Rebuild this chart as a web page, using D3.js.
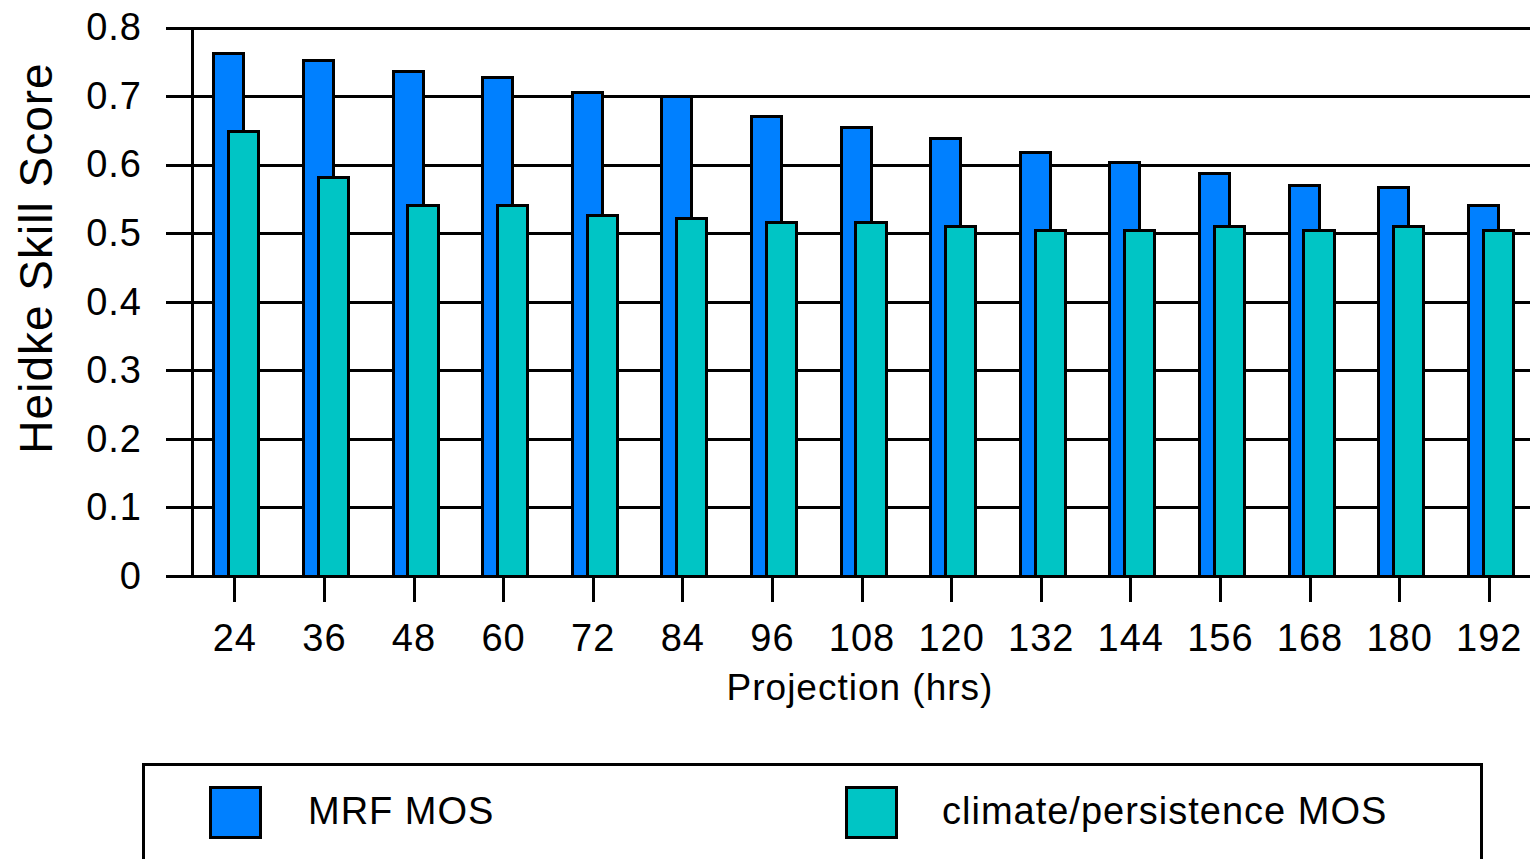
<!DOCTYPE html>
<html>
<head>
<meta charset="utf-8">
<script src="https://cdn.jsdelivr.net/npm/d3@7/dist/d3.min.js"></script>
<style>
  html, body { margin: 0; padding: 0; background: #fff; }
  text { font-family: "Liberation Sans", Arial, sans-serif; fill: #000; letter-spacing: 1px; }
  line, rect { shape-rendering: crispEdges; }
</style>
</head>
<body>
<div id="chart"></div>
<script>
// data
var projections = ["24", "36", "48", "60", "72", "84", "96", "108", "120", "132", "144", "156", "168", "180", "192"];
var mrfMos = [0.762, 0.752, 0.736, 0.727, 0.705, 0.700, 0.670, 0.654, 0.639, 0.618, 0.603, 0.587, 0.570, 0.567, 0.541];
var climPersMos = [0.648, 0.581, 0.540, 0.540, 0.526, 0.521, 0.516, 0.516, 0.510, 0.504, 0.504, 0.510, 0.504, 0.510, 0.504];
var yTicks = [0, 0.1, 0.2, 0.3, 0.4, 0.5, 0.6, 0.7, 0.8];
var seriesNames = ["MRF MOS", "climate/persistence MOS"];
var seriesColors = ["#0080ff", "#00c5c5"];

////////////////basic layout//////////////////
var W = 1530, H = 859;
var gridLeft = 166, axisX = 192, plotRight = 1534;

var svg = d3.select("#chart")
  .append("svg")
    .attr("width", W)
    .attr("height", H);

var x = d3.scaleBand()
    .domain(projections)
    .range([190, plotRight])
    .padding(0);

var y = d3.scaleLinear()
    .domain([0, 0.8])
    .range([576, 27.7]);

// gridlines + y tick labels
var yAxis = svg.append("g")
    .attr("transform", "translate(" + gridLeft + ",0)")
    .call(d3.axisLeft(y)
        .tickValues(yTicks)
        .tickFormat(function(d) { return d === 0 ? "0" : d3.format(".1f")(d); })
        .tickSize(-(W - gridLeft))
        .tickPadding(24));
yAxis.select(".domain").remove();
yAxis.selectAll("line").attr("stroke", "#000").attr("stroke-width", 3);
yAxis.selectAll("text")
    .attr("font-size", "38px")
    .style("font-family", "'Liberation Sans', Arial, sans-serif");

// bars
var bw = x.bandwidth();
var barW = 0.335 * bw;
var offsets = [-0.234 * bw, -0.067 * bw];
var series = [mrfMos, climPersMos];

series.forEach(function(vals, s) {
    svg.append("g")
      .selectAll("rect")
      .data(vals)
      .enter()
      .append("rect")
        .attr("x", function(d, i) { return x(projections[i]) + bw / 2 + offsets[s]; })
        .attr("y", function(d) { return y(d); })
        .attr("width", barW)
        .attr("height", function(d) { return y(0) - y(d); })
        .attr("fill", seriesColors[s])
        .attr("stroke", "#000")
        .attr("stroke-width", 3);
});

// y axis line
svg.append("line")
    .attr("x1", axisX).attr("x2", axisX)
    .attr("y1", y(0.8)).attr("y2", y(0))
    .attr("stroke", "#000").attr("stroke-width", 3);

// x axis baseline
svg.append("line")
    .attr("x1", gridLeft).attr("x2", W)
    .attr("y1", y(0)).attr("y2", y(0))
    .attr("stroke", "#000").attr("stroke-width", 3);

// x ticks + labels
var xAxis = svg.append("g")
    .attr("transform", "translate(0," + y(0) + ")")
    .call(d3.axisBottom(x).tickSize(26).tickSizeOuter(0).tickPadding(22));
xAxis.select(".domain").remove();
xAxis.selectAll("line").attr("stroke", "#000").attr("stroke-width", 3);
xAxis.selectAll("text")
    .attr("font-size", "38px")
    .style("font-family", "'Liberation Sans', Arial, sans-serif");

// axis titles
svg.append("text")
    .attr("x", 860)
    .attr("y", 700)
    .attr("text-anchor", "middle")
    .attr("font-size", "37px")
    .text("Projection (hrs)");

svg.append("text")
    .attr("transform", "translate(52,258) rotate(-90)")
    .attr("text-anchor", "middle")
    .attr("font-size", "46px")
    .text("Heidke Skill Score");

// legend
var legend = svg.append("g");
legend.append("rect")
    .attr("x", 143.5).attr("y", 764.5)
    .attr("width", 1338).attr("height", 200)
    .attr("fill", "none")
    .attr("stroke", "#000").attr("stroke-width", 3);

var legendX = [210.5, 846.5];
var legendTextX = [308, 942];
seriesNames.forEach(function(name, i) {
    legend.append("rect")
        .attr("x", legendX[i]).attr("y", 787.5)
        .attr("width", 50).attr("height", 50)
        .attr("fill", seriesColors[i])
        .attr("stroke", "#000").attr("stroke-width", 3);
    legend.append("text")
        .attr("x", legendTextX[i])
        .attr("y", 824)
        .attr("font-size", "38px")
        .text(name);
});
</script>
</body>
</html>
